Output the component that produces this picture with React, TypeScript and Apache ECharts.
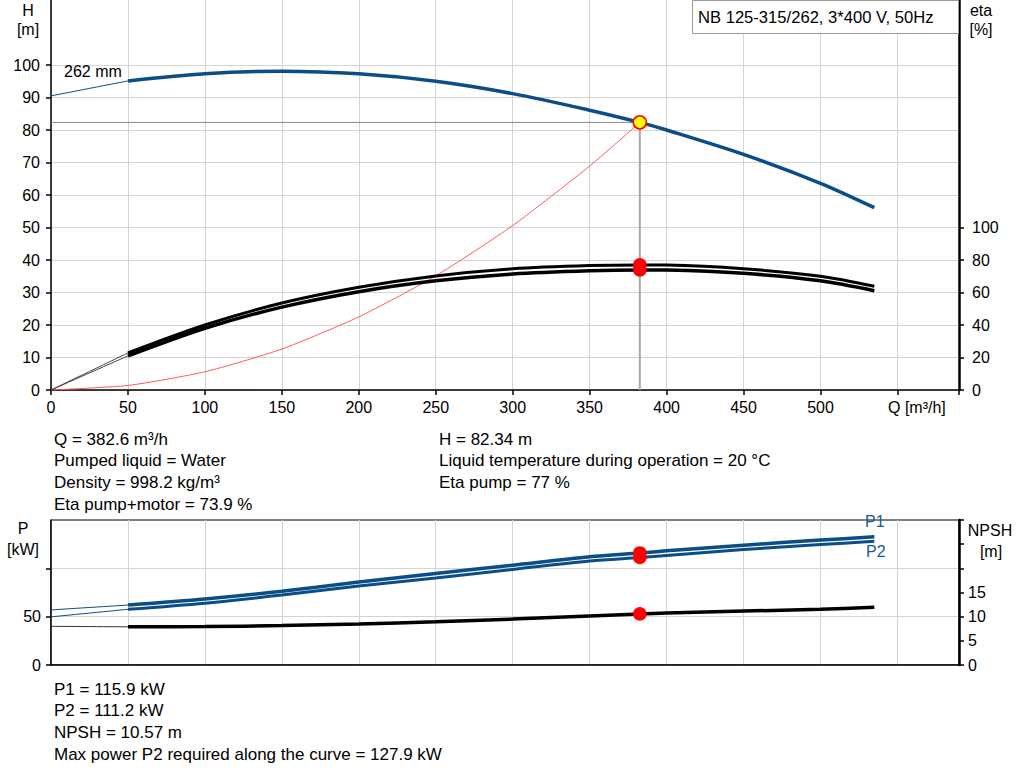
import { useEffect, useRef } from "react";
import * as echarts from "echarts";

// flow points (m³/h); the thick part of each curve
const Q_CURVE = [50, 100, 150, 200, 250, 300, 350, 382.6, 400, 450, 500, 535];
// thin lead-in from zero flow
const Q_LEAD = [0, 50];

const H_CURVE = [95.1, 97.3, 98.1, 97.3, 95.0, 91.2, 86.1, 82.34, 80.0, 72.5, 63.6, 56.1];
const H_LEAD = [90.5, 95.1];

const ETA_PUMP = [22.8, 40, 53.5, 63.2, 70.2, 74.6, 76.6, 77, 76.9, 74.6, 70, 63.8];
const ETA_PUMP_LEAD = [0, 22.8];
const ETA_TOTAL = [21, 38, 51, 60.5, 67.2, 71.4, 73.4, 73.9, 73.8, 71.8, 67.2, 61.1];
const ETA_TOTAL_LEAD = [0, 21];

const Q_SYSTEM = [0, 50, 100, 150, 200, 250, 300, 350, 382.6];
const H_SYSTEM = [0, 1.4, 5.6, 12.6, 22.5, 35.1, 50.6, 68.9, 82.34];

const P1_CURVE = [62, 68.3, 76.3, 85.8, 94.6, 103.3, 112, 115.9, 118.1, 124, 129.2, 132.7];
const P1_LEAD = [57, 62];
const P2_CURVE = [57.6, 64, 72.3, 81.7, 90.1, 98.9, 107.6, 111.2, 113.3, 119.4, 124.6, 127.9];
const P2_LEAD = [49.8, 57.6];
const NPSH_CURVE = [7.9, 7.95, 8.15, 8.5, 8.95, 9.5, 10.15, 10.57, 10.75, 11.15, 11.55, 11.95];
const NPSH_LEAD = [8.0, 7.9];

// duty point
const DUTY_Q = 382.6;
const DUTY_H = 82.34;
const DUTY_ETA = [77, 73.9];
const DUTY_P = [115.9, 111.2];
const DUTY_NPSH = 10.57;

const H_TICKS = [0, 10, 20, 30, 40, 50, 60, 70, 80, 90, 100];
const ETA_TICKS = [0, 20, 40, 60, 80, 100];
const Q_TICKS = [0, 50, 100, 150, 200, 250, 300, 350, 400, 450, 500];
const P_TICKS = [0, 50];
const NPSH_TICKS = [0, 5, 10, 15];

const INFO_LEFT = [
  "Q = 382.6 m³/h",
  "Pumped liquid = Water",
  "Density = 998.2 kg/m³",
  "Eta pump+motor = 73.9 %",
];
const INFO_RIGHT = [
  "H = 82.34 m",
  "Liquid temperature during operation = 20 °C",
  "Eta pump = 77 %",
];
const INFO_BOTTOM = [
  "P1 = 115.9 kW",
  "P2 = 111.2 kW",
  "NPSH = 10.57 m",
  "Max power P2 required along the curve = 127.9 kW",
];

const FONT = "'Liberation Sans', Arial, sans-serif";
const BLUE = "#0b4d86";
const GRID_COLOR = "#d4d4d4";

const zip = (xs: number[], ys: number[]) => xs.map((x, i) => [x, ys[i]]);

export default function App() {
  const chartRef = useRef<HTMLDivElement>(null);

  useEffect(() => {
    document.body.style.margin = "0";
    if (!chartRef.current) return;
    const chart = echarts.init(chartRef.current, null, { renderer: "svg" });

    const txt = (text: string, x: number, y: number, extra: any = {}, size = 16) => ({
      type: "text",
      x,
      y,
      z: 100,
      style: {
        text,
        fill: "#000",
        font: `${size}px ${FONT}`,
        textVerticalAlign: "middle",
        ...extra,
      },
    });

    const line = (
      name: string,
      xs: number[],
      ys: number[],
      color: string,
      width: number,
      gridIdx: number,
      yIdx: number
    ) => ({
      name,
      type: "line",
      xAxisIndex: gridIdx,
      yAxisIndex: yIdx,
      data: zip(xs, ys),
      smooth: 0.3,
      showSymbol: false,
      lineStyle: { color, width },
      silent: true,
    });

    const dot = (
      pts: number[][],
      gridIdx: number,
      yIdx: number,
      size = 12,
      fill = "#ff0000",
      border = "#ff0000"
    ) => ({
      type: "scatter",
      xAxisIndex: gridIdx,
      yAxisIndex: yIdx,
      data: pts,
      symbolSize: size,
      z: 5,
      itemStyle: { color: fill, borderColor: border, borderWidth: 1.5, opacity: 1 },
      silent: true,
    });

    const axisText = { color: "#000", fontSize: 16, fontFamily: FONT };

    chart.setOption({
      animation: false,
      backgroundColor: "#fff",
      grid: [
        { left: 51, top: 0, width: 908, height: 390, show: false },
        {
          left: 51,
          top: 520,
          width: 908,
          height: 145,
          show: true,
          borderColor: "#000",
          borderWidth: 1,
          backgroundColor: "transparent",
        },
      ],
      xAxis: [
        {
          type: "value",
          gridIndex: 0,
          min: 0,
          max: 590,
          interval: 50,
          axisLine: { lineStyle: { color: "#000", width: 1.5 } },
          axisTick: { length: 5, lineStyle: { color: "#000", width: 1.5 } },
          axisLabel: { ...axisText, margin: 9, customValues: Q_TICKS },
          splitLine: { lineStyle: { color: GRID_COLOR, width: 1 } },
        },
        {
          type: "value",
          gridIndex: 1,
          min: 0,
          max: 590,
          interval: 50,
          axisLine: { lineStyle: { color: "#000", width: 1.5 } },
          axisTick: { show: false },
          axisLabel: { show: false },
          splitLine: { lineStyle: { color: GRID_COLOR, width: 1 } },
        },
      ],
      yAxis: [
        {
          type: "value",
          gridIndex: 0,
          min: 0,
          max: 120,
          interval: 10,
          axisLine: { show: true, lineStyle: { color: "#000", width: 1.5 } },
          axisTick: { show: true, length: 5, customValues: H_TICKS, lineStyle: { color: "#000", width: 1.5 } },
          axisLabel: { ...axisText, margin: 11, customValues: H_TICKS },
          splitLine: { lineStyle: { color: GRID_COLOR, width: 1 } },
        },
        {
          type: "value",
          gridIndex: 0,
          position: "right",
          min: 0,
          max: 240,
          interval: 20,
          axisLine: { show: true, lineStyle: { color: "#000", width: 2.5 } },
          axisTick: { show: true, length: 5, customValues: ETA_TICKS, lineStyle: { color: "#000", width: 1.5 } },
          axisLabel: { ...axisText, margin: 13, customValues: ETA_TICKS },
          splitLine: { show: false },
        },
        {
          type: "value",
          gridIndex: 1,
          min: 0,
          max: 150,
          interval: 50,
          axisLine: { show: true, lineStyle: { color: "#000", width: 1.5 } },
          axisTick: { show: true, length: 5, customValues: [0, 50, 100], lineStyle: { color: "#000", width: 1.5 } },
          axisLabel: { ...axisText, margin: 10, customValues: P_TICKS },
          splitLine: { lineStyle: { color: GRID_COLOR, width: 1 } },
        },
        {
          type: "value",
          gridIndex: 1,
          position: "right",
          min: 0,
          max: 30,
          interval: 5,
          axisLine: { show: true, lineStyle: { color: "#000", width: 2.5 } },
          axisTick: { show: true, length: 5, lineStyle: { color: "#000", width: 1.5 } },
          axisLabel: { ...axisText, margin: 9, customValues: NPSH_TICKS },
          splitLine: { show: false },
        },
      ],
      series: [
        // duty point guide lines
        {
          type: "line",
          xAxisIndex: 0,
          yAxisIndex: 0,
          data: [[0, DUTY_H], [DUTY_Q, DUTY_H]],
          showSymbol: false,
          lineStyle: { color: "#8a8a8a", width: 1 },
          silent: true,
        },
        {
          type: "line",
          xAxisIndex: 0,
          yAxisIndex: 0,
          data: [[DUTY_Q, DUTY_H], [DUTY_Q, 0]],
          showSymbol: false,
          lineStyle: { color: "#a8a8a8", width: 2 },
          silent: true,
        },
        {
          ...line("system", Q_SYSTEM, H_SYSTEM, "#ff5a5a", 1, 0, 0),
          smooth: 0.2,
        },
        line("H lead", Q_LEAD, H_LEAD, BLUE, 1, 0, 0),
        line("H", Q_CURVE, H_CURVE, BLUE, 3.5, 0, 0),
        line("eta pump lead", Q_LEAD, ETA_PUMP_LEAD, "#444", 1, 0, 1),
        line("eta total lead", Q_LEAD, ETA_TOTAL_LEAD, "#444", 1, 0, 1),
        line("eta pump", Q_CURVE, ETA_PUMP, "#000", 3, 0, 1),
        line("eta total", Q_CURVE, ETA_TOTAL, "#000", 3.5, 0, 1),
        dot([[DUTY_Q, DUTY_ETA[0]], [DUTY_Q, DUTY_ETA[1]]], 0, 1, 12),
        dot([[DUTY_Q, DUTY_H]], 0, 0, 13, "#ffff00", "#ff0000"),

        line("P1 lead", Q_LEAD, P1_LEAD, BLUE, 1, 1, 2),
        line("P2 lead", Q_LEAD, P2_LEAD, BLUE, 1, 1, 2),
        line("NPSH lead", Q_LEAD, NPSH_LEAD, "#333", 1, 1, 3),
        line("P1", Q_CURVE, P1_CURVE, BLUE, 3.5, 1, 2),
        line("P2", Q_CURVE, P2_CURVE, BLUE, 3, 1, 2),
        line("NPSH", Q_CURVE, NPSH_CURVE, "#000", 3.5, 1, 3),
        dot([[DUTY_Q, DUTY_P[0]], [DUTY_Q, DUTY_P[1]]], 1, 2, 12),
        dot([[DUTY_Q, DUTY_NPSH]], 1, 3, 12),
      ],
      graphic: [
        {
          type: "rect",
          z: 90,
          shape: { x: 692.5, y: 0.5, width: 266, height: 33 },
          style: { fill: "#fff", stroke: "#999", lineWidth: 1 },
        },
        txt("NB 125-315/262, 3*400 V, 50Hz", 698, 17, {}, 16.6),
        txt("H", 28, 10, { textAlign: "center" }),
        txt("[m]", 28, 29, { textAlign: "center" }),
        txt("eta", 981, 10, { textAlign: "center" }),
        txt("[%]", 981, 29, { textAlign: "center" }),
        txt("262 mm", 64, 71),
        txt("Q [m³/h]", 888, 407),
        txt("P", 23, 528, { textAlign: "center" }),
        txt("[kW]", 23, 549, { textAlign: "center" }),
        txt("NPSH", 990, 530, { textAlign: "center" }),
        txt("[m]", 991, 551, { textAlign: "center" }),
        txt("P1", 865, 521, { fill: "#1a5a92" }),
        txt("P2", 866, 551, { fill: "#1a5a92" }),
        ...INFO_LEFT.map((s, i) => txt(s, 54, 439 + i * 21.7, {}, 17)),
        ...INFO_RIGHT.map((s, i) => txt(s, 439, 439 + i * 21.7, {}, 17)),
        ...INFO_BOTTOM.map((s, i) => txt(s, 54, 689 + i * 21.7, {}, 17)),
      ],
    });

    return () => chart.dispose();
  }, []);

  return <div ref={chartRef} style={{ width: 1024, height: 781 }} />;
}
